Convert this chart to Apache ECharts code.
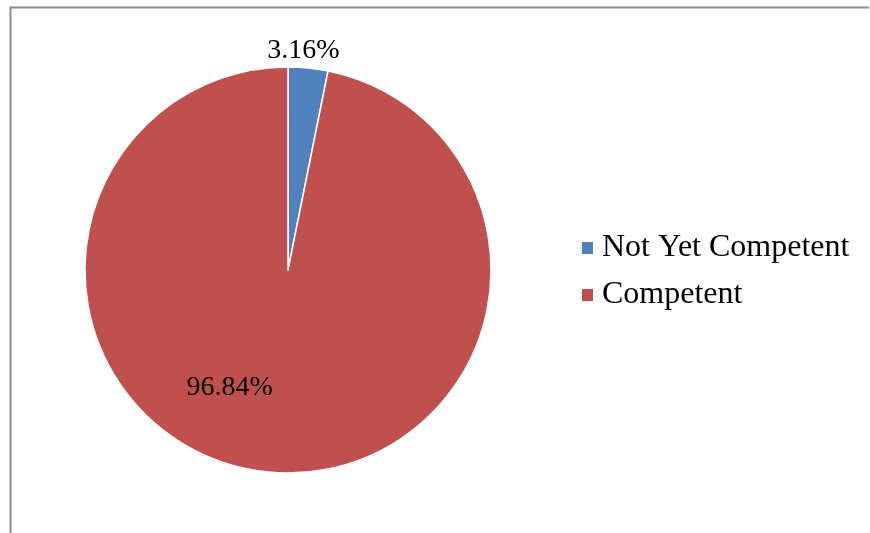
<!DOCTYPE html>
<html>
<head>
<meta charset="utf-8">
<script src="https://cdn.jsdelivr.net/npm/echarts@6/dist/echarts.min.js"></script>
<style>
  html, body { margin: 0; padding: 0; background: #fff; }
  #chart { width: 870px; height: 533px; }
</style>
</head>
<body>
<div id="chart"></div>
<script>
var categories = ["Not Yet Competent", "Competent"];
var percents = [3.16, 96.84];
var colors = ["#4F81BD", "#C0504D"];
// label nudges (px) away from the default inside spot, like Excel's best fit
var labelShift = [[5, -115], [-48, 14]];

var chart = echarts.init(document.getElementById("chart"));
var option = {
    animation: false,
    color: colors,
    textStyle: { fontFamily: "Liberation Serif" },
    graphic: [
        {
            type: "polyline",
            silent: true,
            shape: { points: [[10.5, 533], [10.5, 7.5], [869, 7.5]] },
            style: { stroke: "#8c8c8c", lineWidth: 2, fill: null }
        }
    ],
    legend: {
        orient: "vertical",
        left: 575,
        top: 227,
        itemWidth: 13,
        itemHeight: 14,
        itemGap: 15,
        icon: "rect",
        data: categories,
        textStyle: {
            fontFamily: "Liberation Serif",
            fontSize: 32,
            lineHeight: 32,
            color: "#000",
            padding: [0, 0, 0, 3]
        }
    },
    series: [
        {
            type: "pie",
            center: [288, 270],
            radius: 203,
            startAngle: 90,
            clockwise: true,
            itemStyle: { borderColor: "#fff", borderWidth: 1.5 },
            label: {
                show: true,
                position: "inside",
                formatter: function (p) { return p.value.toFixed(2) + "%"; },
                fontFamily: "Liberation Serif",
                fontSize: 28,
                color: "#000"
            },
            labelLine: { show: false },
            labelLayout: function (params) {
                var s = labelShift[params.dataIndex];
                return { dx: s[0], dy: s[1] };
            },
            data: categories.map(function (name, i) {
                return { name: name, value: percents[i] };
            })
        }
    ]
};
chart.setOption(option);
</script>
</body>
</html>
